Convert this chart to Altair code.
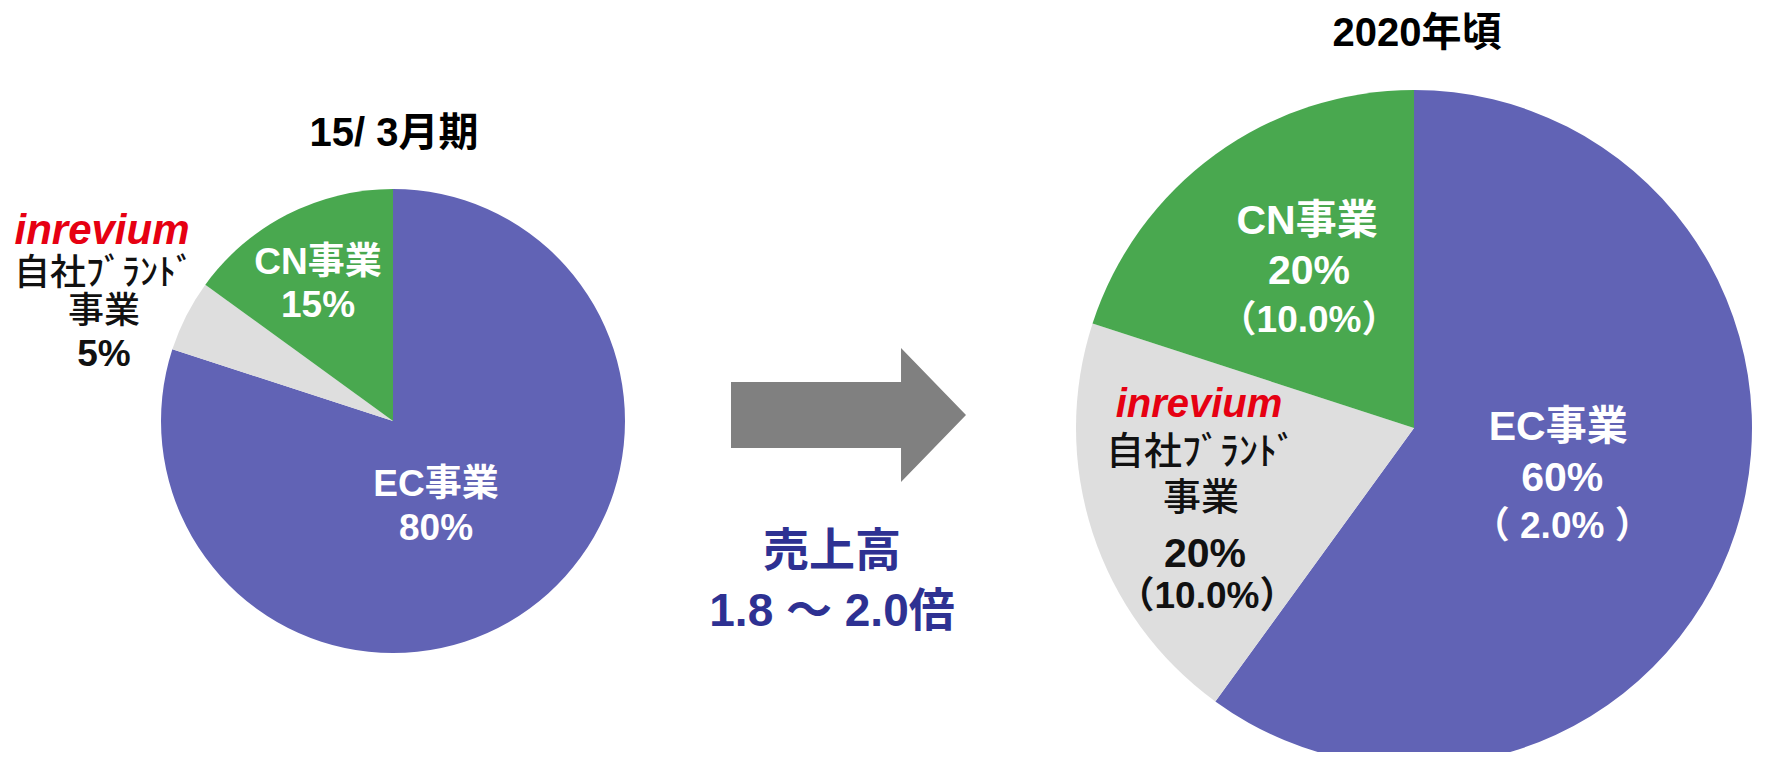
import math
import altair as alt
import pandas as pd

# ---------------- data ----------------
segment_keys = ["EC", "BR", "CN"]
segment_names = ["EC事業", "自社ﾌﾞﾗﾝﾄﾞ\n事業", "CN事業"]
share_fy1503 = [80, 5, 15]          # 15/3月期 (%)
share_fy2020 = [60, 20, 20]         # 2020年頃 (%)
growth_fy2020 = ["（ 2.0% ）", "（10.0%）", "（10.0%）"]
brand_logo = "inrevium"
title_fy1503 = "15/ 3月期"
title_fy2020 = "2020年頃"
arrow_caption = ["売上高", "1.8 ～ 2.0倍"]
segment_colors = ["#6163B5", "#DEDEDE", "#49A84F"]

OFF = 8
FONT = "Liberation Sans, Noto Sans CJK JP"
theta_scale = alt.Scale(domain=[0, 100], range=[0, 2 * math.pi])


def frame(shares, growth=None):
    d = {"key": segment_keys, "name": segment_names, "share": shares,
         "order": list(range(len(segment_keys)))}
    d["growth"] = growth if growth else [""] * len(segment_keys)
    return pd.DataFrame(d)


df1 = frame(share_fy1503)
df2 = frame(share_fy2020, growth_fy2020)


def pie(df, cx, cy, r):
    return alt.Chart(df).mark_arc(outerRadius=r).encode(
        theta=alt.Theta("share:Q", stack=True, scale=theta_scale),
        color=alt.Color("key:N", scale=alt.Scale(domain=segment_keys, range=segment_colors), legend=None),
        order=alt.Order("order:Q", sort="ascending"),
        x=alt.value(cx - OFF), y=alt.value(cy - OFF),
    )


def label(df, cx, cy, R, key, field, dx, dy, size, color,
          weight="bold", style="normal", line_height=None):
    ch = alt.Chart(df).transform_window(
        cum="sum(share)", sort=[alt.SortField("order", order="ascending")]
    ).transform_calculate(
        mid="datum.cum - datum.share / 2",
        pct="datum.share + '%'",
    ).transform_filter(alt.datum.key == key)
    kw = dict(radius=R, dx=dx, dy=dy, fontSize=size, color=color, fontWeight=weight,
              fontStyle=style, font=FONT, align="center", baseline="middle", lineBreak="\n")
    if line_height:
        kw["lineHeight"] = line_height
    text = alt.value(brand_logo) if field == "logo" else alt.Text(f"{field}:N")
    return ch.mark_text(**kw).encode(
        theta=alt.Theta("mid:Q", stack=None, scale=theta_scale),
        text=text,
        x=alt.value(cx - OFF), y=alt.value(cy - OFF),
    )


def free_text(txt, x, y, size, color, line_height=None):
    kw = dict(fontSize=size, color=color, fontWeight="bold", font=FONT,
              align="center", baseline="middle")
    if line_height:
        kw["lineHeight"] = line_height
    return alt.Chart(pd.DataFrame({"t": [0]})).mark_text(**kw).encode(
        text=alt.value(txt), x=alt.value(x - OFF), y=alt.value(y - OFF))


W, RED, BLK = "white", "#E60012", "#111111"
C1 = (393, 421)
C2 = (1414, 428)

layers = [
    pie(df1, *C1, 232),
    pie(df2, *C2, 338),
    # left pie labels
    label(df1, *C1, 120, "EC", "name", -27.5, -33, 37, W),
    label(df1, *C1, 120, "EC", "pct", -27.5, 11, 37, W),
    label(df1, *C1, 120, "CN", "name", -20.5, -51, 37, W),
    label(df1, *C1, 120, "CN", "pct", -20.5, -8, 37, W),
    label(df1, *C1, 300, "BR", "logo", -23.7, -53.8, 42, RED, style="italic"),
    label(df1, *C1, 300, "BR", "name", -21.7, -10.8, 36, BLK, weight=500, line_height=38),
    label(df1, *C1, 300, "BR", "pct", -21.7, 70.2, 37, BLK),
    # right pie labels
    label(df2, *C2, 200, "EC", "name", -46, -62, 41, W),
    label(df2, *C2, 200, "EC", "pct", -42, -11, 41, W),
    label(df2, *C2, 200, "EC", "growth", -42, 37, 37, W),
    label(df2, *C2, 200, "BR", "logo", -24.8, -84.8, 40, RED, style="italic"),
    label(df2, *C2, 200, "BR", "name", -22.8, -36.8, 38, BLK, weight=500, line_height=46),
    label(df2, *C2, 200, "BR", "pct", -18.8, 65.2, 41, BLK),
    label(df2, *C2, 200, "BR", "growth", -16.8, 107.2, 37, BLK),
    label(df2, *C2, 200, "CN", "name", 10.6, -44.2, 41, W),
    label(df2, *C2, 200, "CN", "pct", 12.6, 5.8, 41, W),
    label(df2, *C2, 200, "CN", "growth", 12.6, 54.8, 37, W),
    # titles
    free_text(title_fy1503, 394, 134, 40, "#000000"),
    free_text(title_fy2020, 1417, 34, 40, "#000000"),
]

# arrow (custom symbol path in unit box)
ARROW = "M-1,-0.281 L0.447,-0.281 L0.447,-0.570 L1,0 L0.447,0.570 L0.447,0.281 L-1,0.281 Z"
arrow = alt.Chart(pd.DataFrame({"a": [0]})).mark_point(
    shape=ARROW, size=235 ** 2, filled=True, color="#808080", opacity=1, strokeWidth=0
).encode(x=alt.value(848.5 - OFF), y=alt.value(415 - OFF))
layers.append(arrow)

caption = alt.Chart(pd.DataFrame({"t": [0]})).mark_text(
    fontSize=46, color="#2E3192", fontWeight="bold", font=FONT,
    align="center", baseline="middle", lineHeight=60
).encode(text=alt.value(arrow_caption), x=alt.value(832 - OFF), y=alt.value(552 - OFF))
layers.append(caption)

chart = alt.layer(*layers).properties(
    width=1761, height=744, padding=0,
    autosize=alt.AutoSizeParams(type="none"),
).configure_view(stroke=None)

chart.save("out.html", embed_options={"renderer": "svg", "actions": False})
